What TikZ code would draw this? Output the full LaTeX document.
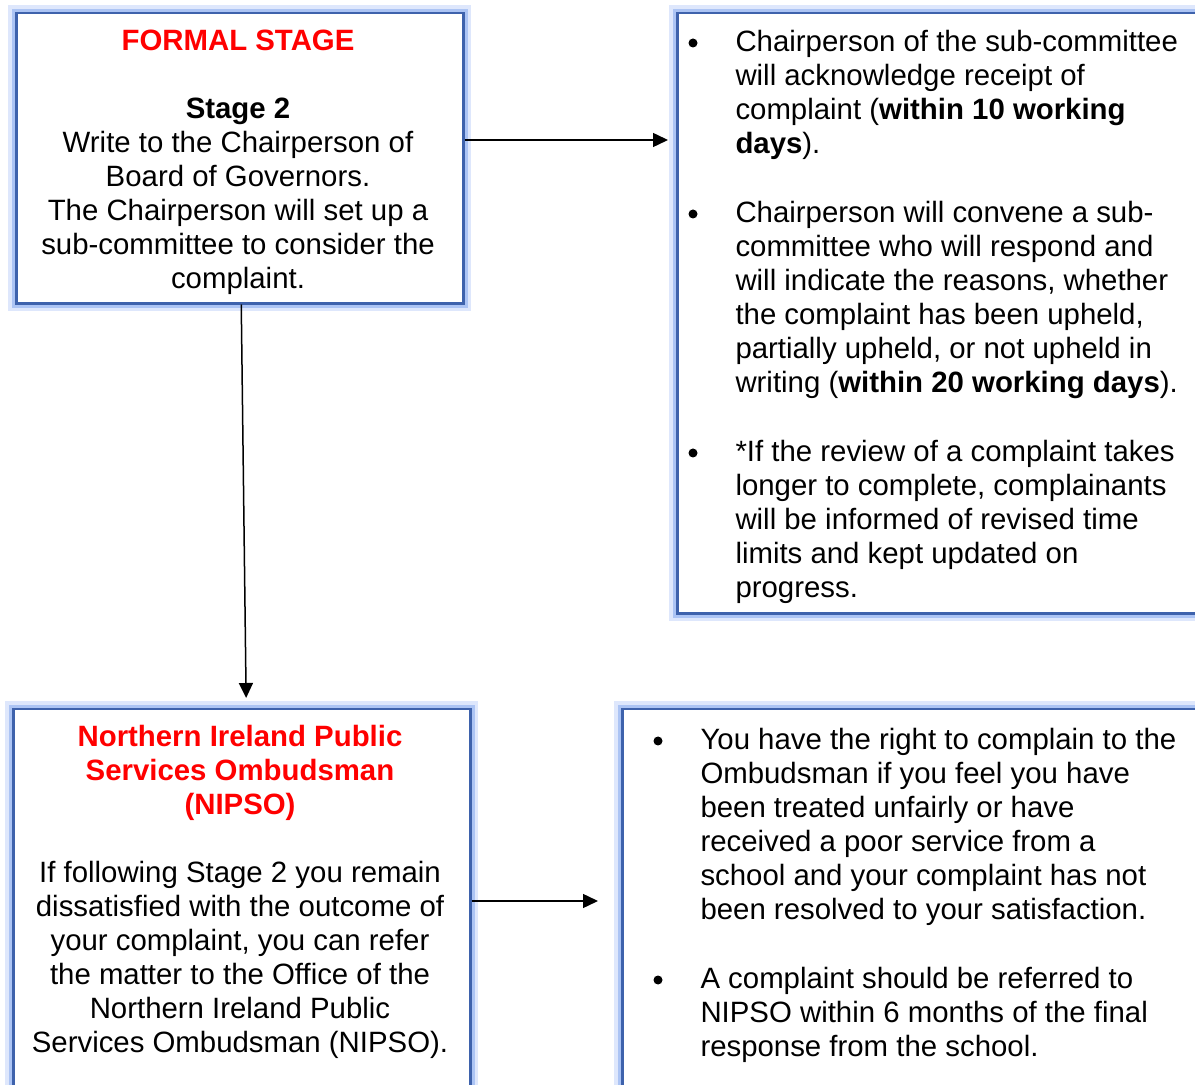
\documentclass[tikz,border=0pt]{standalone}
\usepackage{fontspec}
\setmainfont{Liberation Sans}
\usetikzlibrary{arrows.meta}
\definecolor{rimblue}{RGB}{62,98,172}
\definecolor{glowin}{RGB}{172,196,244}
\definecolor{glowout}{RGB}{222,231,252}
\definecolor{headred}{RGB}{255,0,0}
\tikzstyle{panel} = [rectangle, anchor=north west, draw=rimblue, line width=1pt, fill=white,
  preaction={draw=glowout, line width=6.5pt}, preaction={draw=glowin, line width=3.6pt}]
\tikzstyle{txt} = [inner sep=0pt, font=\fontsize{11.75}{13.6}\selectfont]
\tikzstyle{bul} = [circle, fill=black, inner sep=0pt, minimum size=3.6pt]
\tikzstyle{link} = [-{Triangle[length=6pt,width=5.6pt]}, line width=0.6pt]

\begin{document}
\begin{tikzpicture}[x=0.4pt, y=-0.4pt]
	\useasboundingbox (0,0) rectangle (1195,1085);
	% boxes
	\node[panel, minimum width=178.8pt, minimum height=116pt] (stage) at (15,12) {};
	\node[panel, minimum width=213.6pt, minimum height=240pt] (reply) at (676,12) {};
	\node[panel, minimum width=182.8pt, minimum height=154.8pt] (nipso) at (12,708) {};
	\node[panel, minimum width=235.6pt, minimum height=154.8pt] (rights) at (621,708) {};

	% formal stage
	\node[txt, anchor=north, align=center] (stagetxt) at (238,29) {%
		\textcolor{headred}{\textbf{FORMAL STAGE}}\\[13.6pt]
		\textbf{Stage 2}\\
		Write to the Chairperson of\\
		Board of Governors.\\
		The Chairperson will set up a\\
		sub-committee to consider the\\
		complaint.};

	% sub-committee reply
	\node[bul] (b1) at (693,43) {};
	\node[txt, anchor=north west, align=left] (reply1) at (735,30) {%
		Chairperson of the sub-committee\\
		will acknowledge receipt of\\
		complaint (\textbf{within 10 working}\\
		\textbf{days}).};
	\node[bul] (b2) at (693,214) {};
	\node[txt, anchor=north west, align=left] (reply2) at (735,201) {%
		Chairperson will convene a sub-\\
		committee who will respond and\\
		will indicate the reasons, whether\\
		the complaint has been upheld,\\
		partially upheld, or not upheld in\\
		writing (\textbf{within 20 working days}).};
	\node[bul] (b3) at (693,453) {};
	\node[txt, anchor=north west, align=left] (reply3) at (735,440) {%
		*If the review of a complaint takes\\
		longer to complete, complainants\\
		will be informed of revised time\\
		limits and kept updated on\\
		progress.};

	% ombudsman
	\node[txt, anchor=north, align=center] (nipsotxt) at (240,725) {%
		\textcolor{headred}{\textbf{Northern Ireland Public}}\\
		\textcolor{headred}{\textbf{Services Ombudsman}}\\
		\textcolor{headred}{\textbf{(NIPSO)}}\\[13.6pt]
		If following Stage 2 you remain\\
		dissatisfied with the outcome of\\
		your complaint, you can refer\\
		the matter to the Office of the\\
		Northern Ireland Public\\
		Services Ombudsman (NIPSO).};

	% rights
	\node[bul] (b4) at (658,741) {};
	\node[txt, anchor=north west, align=left] (rights1) at (700,728) {%
		You have the right to complain to the\\
		Ombudsman if you feel you have\\
		been treated unfairly or have\\
		received a poor service from a\\
		school and your complaint has not\\
		been resolved to your satisfaction.};
	\node[bul] (b5) at (658,980) {};
	\node[txt, anchor=north west, align=left] (rights2) at (700,967) {%
		A complaint should be referred to\\
		NIPSO within 6 months of the final\\
		response from the school.};

	% connectors
	\draw[link, shorten >=3.2pt] (stage.east |- 0,140) -- (reply.west |- 0,140);
	\draw[link, shorten >=4pt] ([xshift=0.6pt]stage.south) -- ([xshift=1.8pt]nipso.north);
	\draw[link, shorten >=9.2pt] (nipso.east |- 0,901) -- (rights.west |- 0,901);
\end{tikzpicture}
\end{document}
